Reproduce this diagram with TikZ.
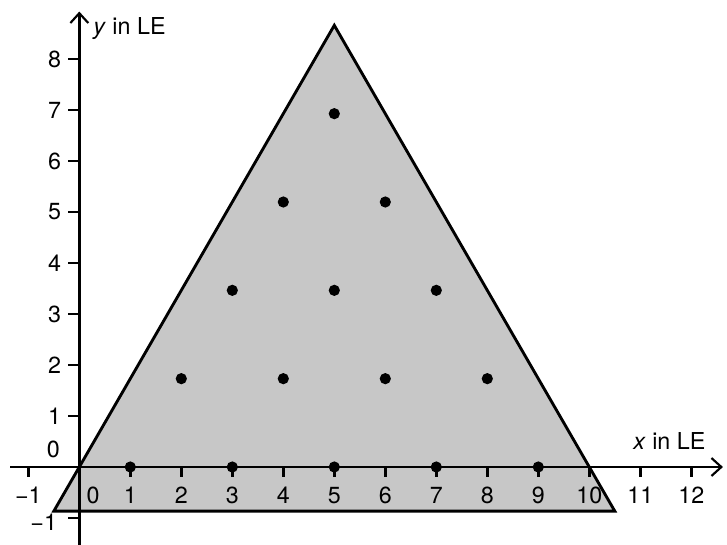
\documentclass[tikz,border=0pt]{standalone}
\usepackage{fontspec}
\setmainfont{TeX Gyre Heros}
\usetikzlibrary{arrows.meta}
\definecolor{trifill}{RGB}{199,199,199}
\begin{document}
\begin{tikzpicture}[x=1cm,y=1cm, font=\fontsize{13}{15}\selectfont,
  axis/.style={line width=1.6pt, -{Straight Barb[length=5.5pt,width=10pt,line width=1.2pt]}},
  tickline/.style={line width=1.6pt},
  tri/.style={line width=1.6pt, line join=miter, fill=trifill},
  dot/.style={circle, fill=black, inner sep=0pt, minimum size=0.22cm},
  lbl/.style={inner sep=0pt}]
\useasboundingbox (-1.555,-1.51) rectangle (12.70,9.157);
% triangle
\coordinate (A) at (-0.5,-0.866);
\coordinate (B) at (10.5,-0.866);
\coordinate (C) at (5,8.660);
\draw[tri] (A) -- (B) -- (C) -- cycle;
% axes
\coordinate (xs) at (-1.35,0);
\coordinate (xe) at (12.62,0);
\coordinate (ys) at (0,-1.52);
\coordinate (ye) at (0,8.93);
\draw[axis] (xs) -- (xe);
\draw[axis] (ys) -- (ye);
% x ticks and labels
\foreach \i in {-1,1,2,...,12} {
  \draw[tickline] (\i,0) -- (\i,-0.2);
}
\node[lbl] (xm1) at (-1,-0.56) {−1};
\node[lbl] (x0) at (0.27,-0.56) {0};
\foreach \i in {1,2,...,12} {
  \node[lbl] (x\i) at (\i,-0.56) {\i};
}
% y ticks and labels
\foreach \j in {-1,1,2,...,8} {
  \draw[tickline] (0,\j) -- (-0.23,\j);
}
\foreach \j in {1,2,...,8} {
  \node[lbl, anchor=east] (y\j) at (-0.35,\j) {\j};
}
\node[lbl] (y0) at (-0.51,0.34) {0};
\node[lbl, anchor=east] (ym1) at (-0.43,-1.08) {−1};
% axis titles
\node[lbl] (xt) at (11.57,0.51) {\textit{x} in LE};
\node[lbl, anchor=west] (yt) at (0.27,8.6) {\textit{y} in LE};
% dots
\foreach \x in {1,3,5,7,9} { \node[dot] (d0\x) at (\x,0) {}; }
\foreach \x in {2,4,6,8} { \node[dot] (d1\x) at (\x,1.732) {}; }
\foreach \x in {3,5,7} { \node[dot] (d2\x) at (\x,3.464) {}; }
\foreach \x in {4,6} { \node[dot] (d3\x) at (\x,5.196) {}; }
\node[dot] (d45) at (5,6.928) {};
\end{tikzpicture}
\end{document}
